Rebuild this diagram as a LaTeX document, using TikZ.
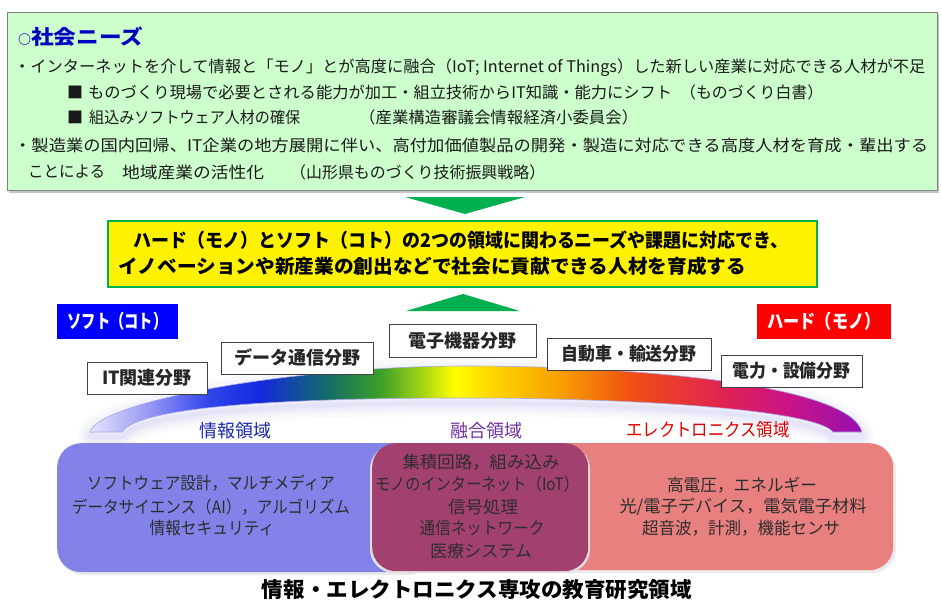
\documentclass[tikz,border=0pt]{standalone}
\usepackage{fontspec}
\usepackage{graphicx}
\setmainfont{Noto Sans CJK JP}
\newcommand\fs[1]{\fontsize{#1pt}{#1pt}\selectfont}
\newcommand\fitw[2]{\resizebox{#1pt}{\height}{#2}}
\definecolor{topgreen}{RGB}{204,255,204}
\definecolor{arrowgreen}{RGB}{0,176,80}
\definecolor{titleblue}{RGB}{0,0,192}
\definecolor{boxblue}{RGB}{130,130,232}
\definecolor{boxred}{RGB}{232,128,128}
\definecolor{boxpurple}{RGB}{162,64,112}
\definecolor{txtgray}{RGB}{45,45,45}
\definecolor{lblblue}{RGB}{25,40,170}
\definecolor{lblpurple}{RGB}{112,48,160}
\definecolor{lblred}{RGB}{220,0,0}
\definecolor{glow}{RGB}{170,170,230}
\definecolor{rA}{RGB}{228,228,252}
\definecolor{rB}{RGB}{150,150,245}
\definecolor{rC}{RGB}{50,70,235}
\definecolor{rD}{RGB}{20,40,225}
\definecolor{rE}{RGB}{20,110,100}
\definecolor{rF}{RGB}{60,160,40}
\definecolor{rG}{RGB}{160,210,20}
\definecolor{rH}{RGB}{255,255,0}
\definecolor{rI}{RGB}{255,215,0}
\definecolor{rJ}{RGB}{248,160,0}
\definecolor{rK}{RGB}{240,80,20}
\definecolor{rL}{RGB}{225,35,80}
\definecolor{rM}{RGB}{200,20,135}
\definecolor{rN}{RGB}{150,15,175}
\pgfdeclarehorizontalshading{rainbow}{100bp}{color(0bp)=(rA); color(25bp)=(rA); color(28.9bp)=(rB); color(32.6bp)=(rC); color(36bp)=(rD); color(40.5bp)=(rE); color(43.8bp)=(rF); color(46.4bp)=(rG); color(48.6bp)=(rH); color(50.9bp)=(rI); color(55.4bp)=(rJ); color(60bp)=(rK); color(65.8bp)=(rL); color(70.3bp)=(rM); color(75bp)=(rN); color(100bp)=(rN)}
\tikzset{
  txt/.style={inner sep=0, anchor=west, font=\fs{16}, text=black!90},
  goaltxt/.style={inner sep=0, anchor=west, font=\fs{19}\bfseries, text=black},
  sidebox/.style={inner sep=0, minimum height=35, font=\fs{19}\bfseries, text=white},
  fieldbox/.style={draw=black!75, fill=white, line width=0.9, inner sep=0, font=\fs{18}\bfseries, text=black!85},
  region/.style={inner sep=0, font=\fs{18}},
  areatxt/.style={inner sep=0, font=\fs{17}, text=txtgray},
  areabox/.style={inner sep=0, rounded corners=24, anchor=north west}
}
\begin{document}
\begin{tikzpicture}[x=1pt,y=-1pt]
\useasboundingbox (0,0) rectangle (942,602);
\fill[white] (0,0) rectangle (942,602);
% top needs box
\fill[black!22] (9,14) rectangle (939,192.5);
\node[draw=black!50, fill=topgreen, line width=1.3, minimum width=930, minimum height=178, anchor=north west, inner sep=0] (needs) at (7,12) {};
\node[inner sep=0, anchor=west, text=titleblue, font=\fs{20}\bfseries] (title) at (18,37) {{\fs{13}\raisebox{0.5pt}{○}}\fitw{112}{社会ニーズ}};
\node[txt] (n1) at (14,68) {\fitw{911}{・インターネットを介して情報と「モノ」とが高度に融合（IoT; Internet of Things）した新しい産業に対応できる人材が不足}};
\node[txt] (n2a) at (67,92) {■};
\node[txt] (n2b) at (88,92) {\fitw{584}{ものづくり現場で必要とされる能力が加工・組立技術からIT知識・能力にシフト}};
\node[txt] (n2c) at (680,92) {\fitw{143}{（ものづくり白書）}};
\node[txt] (n3a) at (67,117) {■};
\node[txt] (n3b) at (89,117) {\fitw{211}{組込みソフトウェア人材の確保}};
\node[txt] (n3c) at (359,117) {\fitw{279}{（産業構造審議会情報経済小委員会）}};
\node[txt] (n4) at (14,145) {\fitw{914}{・製造業の国内回帰、IT企業の地方展開に伴い、高付加価値製品の開発・製造に対応できる高度人材を育成・輩出する}};
\node[txt] (n5a) at (28,172) {\fitw{77}{ことによる}};
\node[txt] (n5b) at (122,172) {\fitw{142}{地域産業の活性化}};
\node[txt] (n5c) at (290,172) {\fitw{255}{（山形県ものづくり技術振興戦略）}};
% arrows
\fill[arrowgreen] (405,197) -- (525,197) -- (465,214) -- cycle;
% goal box
\node[draw=arrowgreen, fill=yellow, line width=2, minimum width=709, minimum height=66, anchor=north west, inner sep=0] (goal) at (107,220) {};
\node[goaltxt] (g1) at (133,240) {\fitw{655}{ハード（モノ）とソフト（コト）の2つの領域に関わるニーズや課題に対応でき、}};
\node[goaltxt] (g2) at (118,266) {\fitw{628}{イノベーションや新産業の創出などで社会に貢献できる人材を育成する}};
\fill[arrowgreen] (406,311) -- (520,311) -- (463,294) -- cycle;
% soft / hard
\node[sidebox, fill=blue, minimum width=121] (soft) at (117.5,321.5) {\fitw{100}{ソフト（コト）}};
\node[sidebox, fill=red, minimum width=134] (hard) at (824,321.5) {\fitw{113}{ハード（モノ）}};
% rainbow band glow
\foreach \w/\o in {26/0.05,18/0.07,11/0.09,5/0.12}{
  \draw[glow, line width=\w, opacity=\o, line join=round, yshift=-5pt]
    (90,432) .. controls (100,400) and (300,366) .. (465,366) .. controls (640,366) and (850,385) .. (862,432) -- (833,432) .. controls (815,410) and (640,398) .. (465,398) .. controls (300,398) and (140,405) .. (122,432) -- cycle;
}
\shade[shading=rainbow, draw=glow, line width=0.6]
  (90,432) .. controls (100,400) and (300,366) .. (465,366) .. controls (640,366) and (850,385) .. (862,432) -- (833,432) .. controls (815,410) and (640,398) .. (465,398) .. controls (300,398) and (140,405) .. (122,432) -- cycle;
% field boxes
\node[fieldbox, minimum width=120, minimum height=32] (itf) at (147,378) {IT関連分野};
\node[fieldbox, minimum width=152, minimum height=32] (dataf) at (297,358) {データ通信分野};
\node[fieldbox, minimum width=147, minimum height=33] (elecf) at (462.5,340.5) {電子機器分野};
\node[fieldbox, minimum width=164, minimum height=32] (carf) at (629,354) {\fitw{135}{自動車・輸送分野}};
\node[fieldbox, minimum width=141, minimum height=32] (powf) at (791.5,371) {\fitw{118}{電力・設備分野}};
% region labels
\node[region, text=lblblue] (rinfo) at (235,431) {情報領域};
\node[region, text=lblpurple] (rfuse) at (486,431) {融合領域};
\node[region, text=lblred] (relec) at (708,430) {\fitw{163}{エレクトロニクス領域}};
% bottom area boxes
\fill[black!8, rounded corners=24] (59,446) rectangle (432,575);
\fill[black!8, rounded corners=24] (532,446) rectangle (896,573);
\node[areabox, fill=boxblue, minimum width=373, minimum height=129] (ainfo) at (57,443) {};
\node[areabox, fill=boxred, minimum width=363, minimum height=127] (aelec) at (530,443) {};
\fill[black!12, rounded corners=24] (370,445) rectangle (590,573);
\node[areabox, fill=boxpurple, minimum width=216, minimum height=128] (afuse) at (372,443) {};
\node[areatxt] (b1) at (211,483) {\fitw{248}{ソフトウェア設計，マルチメディア}};
\node[areatxt] (b2) at (211,507) {\fitw{278}{データサイエンス（AI），アルゴリズム}};
\node[areatxt] (b3) at (212,528) {\fitw{125}{情報セキュリティ}};
\node[areatxt] (p1) at (481,462) {\fitw{157}{集積回路，組み込み}};
\node[areatxt] (p2) at (477,484) {\fitw{204}{モノのインターネット（IoT）}};
\node[areatxt] (p3) at (483,507) {\fitw{70}{信号処理}};
\node[areatxt] (p4) at (482,528) {\fitw{125}{通信ネットワーク}};
\node[areatxt] (p5) at (481,551) {\fitw{102}{医療システム}};
\node[areatxt] (r1) at (742,485) {\fitw{150}{高電圧，エネルギー}};
\node[areatxt] (r2) at (743,507) {\fitw{247}{光/電子デバイス，電気電子材料}};
\node[areatxt] (r3) at (741,528) {\fitw{198}{超音波，計測，機能センサ}};
% caption
\node[inner sep=0, font=\fs{21}\bfseries, text=black] (caption) at (477,590) {\fitw{430}{情報・エレクトロニクス専攻の教育研究領域}};
\end{tikzpicture}
\end{document}
